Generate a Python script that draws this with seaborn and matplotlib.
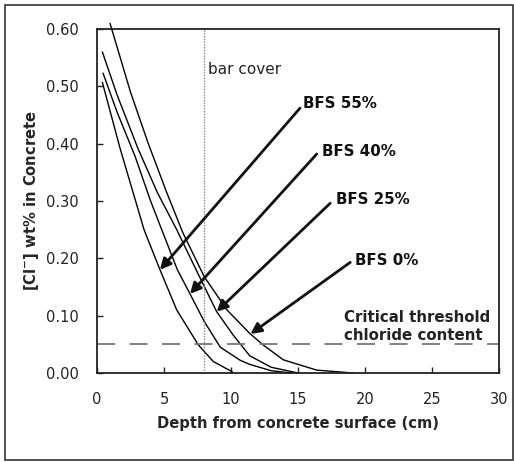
import numpy as np
import pandas as pd
import matplotlib
matplotlib.use("Agg")
import matplotlib.pyplot as plt
import seaborn as sns
from matplotlib.patches import Rectangle

# ---- data ----
series = ["BFS 55%", "BFS 40%", "BFS 25%", "BFS 0%"]
x_55 = [0.4, 1.72, 3.51, 4.7, 5.95, 7.56, 8.68, 10.1]
y_55 = [0.507, 0.392, 0.25, 0.18, 0.11, 0.049, 0.02, 0.002]
x_40 = [0.45, 1.5, 2.84, 4.0, 4.83, 6.0, 6.94, 8.0, 9.2, 10.7, 11.4, 13.0, 14.5]
y_40 = [0.523, 0.455, 0.378, 0.30, 0.25, 0.18, 0.138, 0.09, 0.045, 0.022, 0.015, 0.004, 0.0]
x_25 = [0.4, 1.5, 3.05, 4.5, 5.95, 7.5, 8.93, 10.2, 11.4, 13.0, 15.0]
y_25 = [0.56, 0.485, 0.392, 0.315, 0.25, 0.175, 0.107, 0.065, 0.03, 0.01, 0.0]
x_0 = [0.97, 2.5, 3.83, 5.2, 6.4, 8.0, 9.7, 11.4, 12.4, 13.9, 16.4, 19.1]
y_0 = [0.61, 0.49, 0.40, 0.315, 0.245, 0.168, 0.11, 0.069, 0.049, 0.023, 0.005, 0.0]
xs = [x_55, x_40, x_25, x_0]
ys = [y_55, y_40, y_25, y_0]

threshold = 0.05
bar_cover = 8
x_ticks = [0, 5, 10, 15, 20, 25, 30]
y_ticks = [0.0, 0.1, 0.2, 0.3, 0.4, 0.5, 0.6]

rows = []
for name, xv, yv in zip(series, xs, ys):
    for a, b in zip(xv, yv):
        rows.append({"series": name, "depth": a, "cl": b})
df = pd.DataFrame(rows)

sns.set_theme(style="white")
plt.rcParams["font.family"] = ["DejaVu Sans"]

fig = plt.figure(figsize=(5.14, 4.62), dpi=100)
ax = fig.add_axes([97/514, 1-373/462, (499-97)/514, (373-29)/462])

sns.lineplot(data=df, x="depth", y="cl", units="series", estimator=None,
             color="black", lw=1.0, sort=True, ax=ax, legend=False)
for ln in ax.lines:
    ln.set_clip_on(False)

ax.axhline(threshold, color="#777777", lw=1.3, linestyle=(0, (10, 8)))
ax.axvline(bar_cover, color="#888888", lw=1.0, linestyle=(0, (1, 1)))

ax.set_xlim(0, 30)
ax.set_ylim(0, 0.6)
ax.set_xticks(x_ticks)
ax.set_xticklabels([str(v) for v in x_ticks])
ax.set_yticks(y_ticks)
ax.set_yticklabels([f"{v:.2f}" for v in y_ticks])
ax.tick_params(direction="in", length=4, width=1, colors="#222222",
               labelsize=10.5, labelcolor="#222222")
ax.tick_params(axis="x", pad=14, bottom=True)
ax.tick_params(axis="y", pad=13, left=True)
for s in ax.spines.values():
    s.set_color("#222222")
    s.set_linewidth(1.3)

ax.set_xlabel("Depth from concrete surface (cm)", fontsize=10.6,
              fontweight="bold", labelpad=6)
ax.set_ylabel("[Cl$^{\\mathbf{-}}$] wt% in Concrete", fontsize=10.6,
              fontweight="bold", labelpad=4)

ax.text(8.3, 0.529, "bar cover", fontsize=11, va="center", ha="left",
        color="#222222")

# labels and arrows
label_pos = [(15.4, 0.47), (16.8, 0.387), (17.8, 0.302), (19.25, 0.197)]
arrow_start = [(15.15, 0.462), (16.4, 0.382), (17.4, 0.296), (18.9, 0.193)]
tip_x = [4.7, 6.94, 8.93, 11.45]
for name, xv, yv, lp, st, tx in zip(series, xs, ys, label_pos, arrow_start, tip_x):
    ty = float(np.interp(tx, xv, yv))
    ax.text(lp[0], lp[1], name, fontsize=10.8, fontweight="bold",
            va="center", ha="left", color="#111111")
    ax.annotate("", xy=(tx, ty), xytext=st,
                arrowprops=dict(arrowstyle="-|>", lw=2.0, color="#111111",
                                mutation_scale=16, shrinkA=0, shrinkB=0))

ax.text(18.4, 0.081, "Critical threshold\nchloride content", fontsize=10.8,
        fontweight="bold", va="center", ha="left", color="#222222",
        linespacing=1.2)

fig.patches.append(Rectangle((5/514, 1-460/462), 508/514, 455/462,
                             transform=fig.transFigure, fill=False,
                             edgecolor="#333333", lw=1.2))

fig.savefig("out.png", dpi=100)
